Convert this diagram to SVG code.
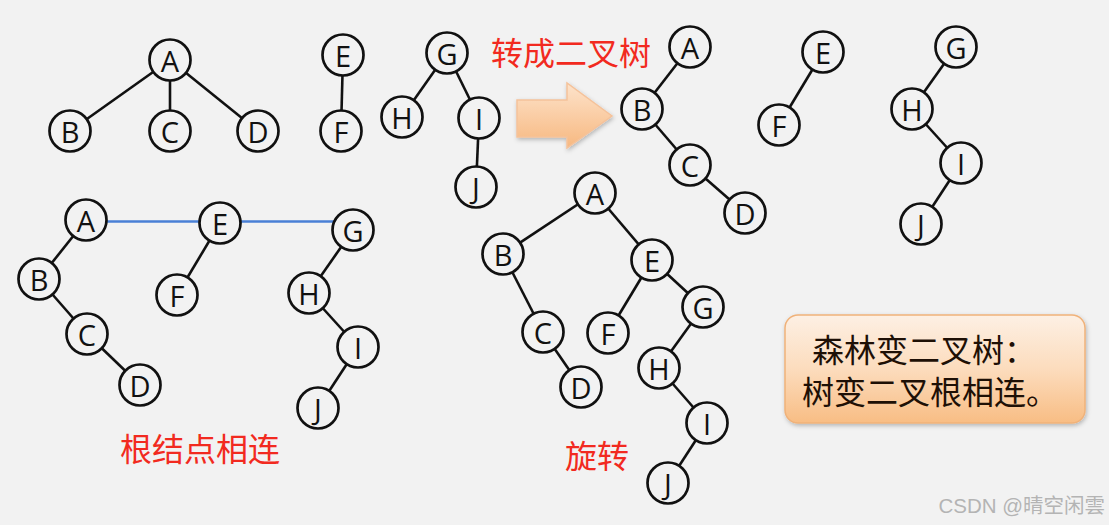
<svg xmlns="http://www.w3.org/2000/svg" width="1109" height="525" viewBox="0 0 1109 525">
<style>
.n circle{fill:#f2f2f2;stroke:#111;stroke-width:2.7}
.n text{font-family:"Open Sans","Liberation Sans",sans-serif;font-size:29px;fill:#111;text-anchor:middle;dominant-baseline:central}
.e line{stroke:#111;stroke-width:2.6}
.e line.blue{stroke:#4a80d6;stroke-width:2.5}
.red{font-family:"Noto Sans CJK SC",sans-serif;font-size:32px;fill:#f22a20}
.box{font-family:"Noto Sans CJK SC",sans-serif;font-size:32px;fill:#1e1006}
</style>
<defs>
<linearGradient id="ag" x1="0" y1="0" x2="0" y2="1">
<stop offset="0" stop-color="#fde3cb"/>
<stop offset="1" stop-color="#f7b880"/>
</linearGradient>
<linearGradient id="bg2" x1="0" y1="0" x2="0" y2="1">
<stop offset="0" stop-color="#fdf0e4"/>
<stop offset="0.5" stop-color="#fcdcbd"/>
<stop offset="1" stop-color="#f8bd84"/>
</linearGradient>
<filter id="sh" x="-10%" y="-10%" width="130%" height="140%">
<feDropShadow dx="1" dy="2" stdDeviation="2" flood-color="#000" flood-opacity="0.25"/>
</filter>
</defs>
<rect width="1109" height="525" fill="#f2f2f2"/>
<g id="connectors" class="e">
<line x1="170" y1="60" x2="70" y2="131"/>
<line x1="170" y1="60" x2="170" y2="131"/>
<line x1="170" y1="60" x2="258" y2="131"/>
<line x1="343" y1="55" x2="341" y2="131"/>
<line x1="447" y1="53" x2="402" y2="117"/>
<line x1="447" y1="53" x2="479" y2="118"/>
<line x1="479" y1="118" x2="476" y2="187"/>
<line x1="690" y1="47" x2="642" y2="109"/>
<line x1="642" y1="109" x2="690" y2="165"/>
<line x1="690" y1="165" x2="745" y2="213"/>
<line x1="823" y1="52" x2="779" y2="125"/>
<line x1="956" y1="47" x2="912" y2="109"/>
<line x1="912" y1="109" x2="961" y2="163"/>
<line x1="961" y1="163" x2="921" y2="224"/>
<line x1="86" y1="220" x2="39" y2="279"/>
<line x1="39" y1="279" x2="87" y2="334"/>
<line x1="87" y1="334" x2="140" y2="385"/>
<line x1="220" y1="223" x2="177" y2="295"/>
<line x1="353" y1="230" x2="309" y2="293"/>
<line x1="309" y1="293" x2="358" y2="347"/>
<line x1="358" y1="347" x2="318" y2="408"/>
<line class="blue" x1="86" y1="221.5" x2="220" y2="221.5"/>
<line class="blue" x1="220" y1="221.5" x2="340" y2="221.5"/>
<line x1="595" y1="193" x2="503" y2="254"/>
<line x1="595" y1="193" x2="652" y2="260"/>
<line x1="503" y1="254" x2="543" y2="332"/>
<line x1="543" y1="332" x2="581" y2="387"/>
<line x1="652" y1="260" x2="608" y2="333"/>
<line x1="652" y1="260" x2="703" y2="307"/>
<line x1="703" y1="307" x2="659" y2="368"/>
<line x1="659" y1="368" x2="707" y2="423"/>
<line x1="707" y1="423" x2="668" y2="483"/>
</g>
<g id="t1A" class="n"><circle cx="170" cy="60" r="20.5"/><text x="170" y="60">A</text></g>
<g id="t1B" class="n"><circle cx="70" cy="131" r="20.5"/><text x="70" y="131">B</text></g>
<g id="t1C" class="n"><circle cx="170" cy="131" r="20.5"/><text x="170" y="131">C</text></g>
<g id="t1D" class="n"><circle cx="258" cy="131" r="20.5"/><text x="258" y="131">D</text></g>
<g id="t1E" class="n"><circle cx="343" cy="55" r="20.5"/><text x="343" y="55">E</text></g>
<g id="t1F" class="n"><circle cx="341" cy="131" r="20.5"/><text x="341" y="131">F</text></g>
<g id="t1G" class="n"><circle cx="447" cy="53" r="20.5"/><text x="447" y="53">G</text></g>
<g id="t1H" class="n"><circle cx="402" cy="117" r="20.5"/><text x="402" y="117">H</text></g>
<g id="t1I" class="n"><circle cx="479" cy="118" r="20.5"/><text x="479" y="118">I</text></g>
<g id="t1J" class="n"><circle cx="476" cy="187" r="20.5"/><text x="476" y="187">J</text></g>

<g id="t2A" class="n"><circle cx="690" cy="47" r="20.5"/><text x="690" y="47">A</text></g>
<g id="t2B" class="n"><circle cx="642" cy="109" r="20.5"/><text x="642" y="109">B</text></g>
<g id="t2C" class="n"><circle cx="690" cy="165" r="20.5"/><text x="690" y="165">C</text></g>
<g id="t2D" class="n"><circle cx="745" cy="213" r="20.5"/><text x="745" y="213">D</text></g>
<g id="t2E" class="n"><circle cx="823" cy="52" r="20.5"/><text x="823" y="52">E</text></g>
<g id="t2F" class="n"><circle cx="779" cy="125" r="20.5"/><text x="779" y="125">F</text></g>
<g id="t2G" class="n"><circle cx="956" cy="47" r="20.5"/><text x="956" y="47">G</text></g>
<g id="t2H" class="n"><circle cx="912" cy="109" r="20.5"/><text x="912" y="109">H</text></g>
<g id="t2I" class="n"><circle cx="961" cy="163" r="20.5"/><text x="961" y="163">I</text></g>
<g id="t2J" class="n"><circle cx="921" cy="224" r="20.5"/><text x="921" y="224">J</text></g>

<g id="t3A" class="n"><circle cx="86" cy="220" r="20.5"/><text x="86" y="220">A</text></g>
<g id="t3B" class="n"><circle cx="39" cy="279" r="20.5"/><text x="39" y="279">B</text></g>
<g id="t3C" class="n"><circle cx="87" cy="334" r="20.5"/><text x="87" y="334">C</text></g>
<g id="t3D" class="n"><circle cx="140" cy="385" r="20.5"/><text x="140" y="385">D</text></g>
<g id="t3E" class="n"><circle cx="220" cy="223" r="20.5"/><text x="220" y="223">E</text></g>
<g id="t3F" class="n"><circle cx="177" cy="295" r="20.5"/><text x="177" y="295">F</text></g>
<g id="t3G" class="n"><circle cx="353" cy="230" r="20.5"/><text x="353" y="230">G</text></g>
<g id="t3H" class="n"><circle cx="309" cy="293" r="20.5"/><text x="309" y="293">H</text></g>
<g id="t3I" class="n"><circle cx="358" cy="347" r="20.5"/><text x="358" y="347">I</text></g>
<g id="t3J" class="n"><circle cx="318" cy="408" r="20.5"/><text x="318" y="408">J</text></g>

<g id="t4A" class="n"><circle cx="595" cy="193" r="20.5"/><text x="595" y="193">A</text></g>
<g id="t4B" class="n"><circle cx="503" cy="254" r="20.5"/><text x="503" y="254">B</text></g>
<g id="t4C" class="n"><circle cx="543" cy="332" r="20.5"/><text x="543" y="332">C</text></g>
<g id="t4D" class="n"><circle cx="581" cy="387" r="20.5"/><text x="581" y="387">D</text></g>
<g id="t4E" class="n"><circle cx="652" cy="260" r="20.5"/><text x="652" y="260">E</text></g>
<g id="t4F" class="n"><circle cx="608" cy="333" r="20.5"/><text x="608" y="333">F</text></g>
<g id="t4G" class="n"><circle cx="703" cy="307" r="20.5"/><text x="703" y="307">G</text></g>
<g id="t4H" class="n"><circle cx="659" cy="368" r="20.5"/><text x="659" y="368">H</text></g>
<g id="t4I" class="n"><circle cx="707" cy="423" r="20.5"/><text x="707" y="423">I</text></g>
<g id="t4J" class="n"><circle cx="668" cy="483" r="20.5"/><text x="668" y="483">J</text></g>

<g id="arrow">
<path d="M517,100 L567,100 L567,83 L612,116 L567,148 L567,137 L517,137 Z" fill="url(#ag)" stroke="#f5c29a" stroke-width="1.5" filter="url(#sh)"/>
</g>
<g id="labels">
<text class="red" x="491" y="65">转成二叉树</text>
<text class="red" x="120" y="461">根结点相连</text>
<text class="red" x="565" y="468">旋转</text>
</g>
<g id="callout">
<rect x="785" y="315" width="300" height="108" rx="13" fill="url(#bg2)" stroke="#f0b27a" stroke-width="1.5" filter="url(#sh)"/>
<text class="box" x="812" y="362">森林变二叉树：</text>
<text class="box" x="802" y="404">树变二叉根相连。</text>
</g>
<text x="1105" y="513" text-anchor="end" font-family="'Liberation Sans','Noto Sans CJK SC',sans-serif" font-size="20.5" fill="#b4b4b4">CSDN @晴空闲雲</text>
</svg>
